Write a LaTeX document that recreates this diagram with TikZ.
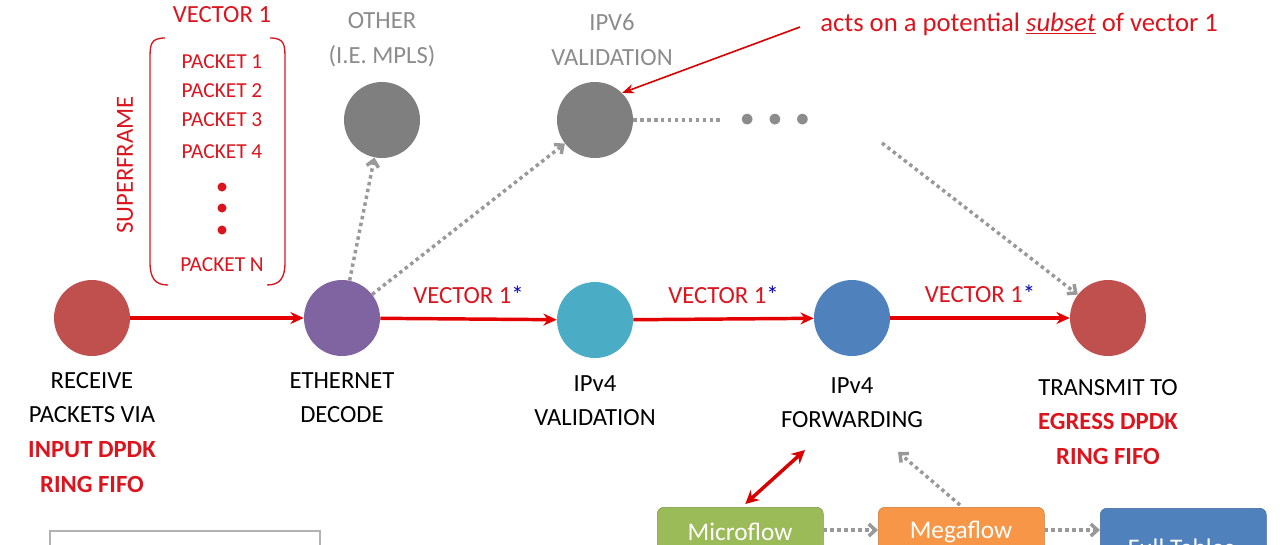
\documentclass[tikz,border=0pt]{standalone}
\usepackage{fontspec}
\setmainfont{Carlito}
\usetikzlibrary{arrows.meta}
\definecolor{redA}{RGB}{192,80,77}
\definecolor{purA}{RGB}{128,100,162}
\definecolor{cyaA}{RGB}{75,172,198}
\definecolor{bluA}{RGB}{79,129,189}
\definecolor{grnA}{RGB}{155,187,89}
\definecolor{orgA}{RGB}{247,150,70}
\definecolor{gryA}{RGB}{127,127,127}
\definecolor{txtR}{RGB}{220,20,30}
\definecolor{txtG}{RGB}{140,140,140}
\tikzset{
  stage/.style={circle,minimum size=76pt*0.75,inner sep=0pt},
  redarrow/.style={draw=red!90!black,line width=2.6pt,-{Stealth[length=10pt,width=9pt]}},
  dotarrow/.style={draw=gryA!80,line width=2.6pt,dash pattern={on 2.6pt off 2.6pt},-{Straight Barb[length=5pt,width=9pt]}},
  lbl/.style={font=\fontsize{18.5}{26}\selectfont,align=center,inner sep=0pt},
  flowbox/.style={rounded corners=5pt,minimum width=166*0.75pt,minimum height=60*0.75pt,anchor=north west,inner sep=0pt}
}
\begin{document}
\begin{tikzpicture}[x=0.75pt,y=0.75pt,yscale=-1,xscale=1]
  \useasboundingbox (0,0) rectangle (1280,544);
  \clip (0,0) rectangle (1280,544);

  %Stage nodes
  \node [stage,fill=redA] (recv) at (92,318) {};
  \node [stage,fill=purA] (ethdec) at (342,318) {};
  \node [stage,fill=cyaA] (v4val) at (595,320) {};
  \node [stage,fill=bluA] (v4fwd) at (852,318) {};
  \node [stage,fill=redA] (xmit) at (1108,318) {};
  \node [stage,fill=gryA] (other) at (382,120) {};
  \node [stage,fill=gryA] (v6val) at (595,120) {};
  \coordinate (dotend) at (720,120);
  \coordinate (dotstart) at (882,143);

  %Main vector path
  \draw [redarrow] (recv) -- (ethdec);
  \draw [redarrow] (ethdec) -- node [lbl,above=10pt,text=txtR] {VECTOR 1\textcolor{blue!70!black}{*}} (v4val);
  \draw [redarrow] (v4val) -- node [lbl,above=10pt,text=txtR] {VECTOR 1\textcolor{blue!70!black}{*}} (v4fwd);
  \draw [redarrow] (v4fwd) -- node [lbl,above=10pt,text=txtR] {VECTOR 1\textcolor{blue!70!black}{*}} (xmit);

  %Side branches
  \draw [dotarrow] (ethdec) -- (other);
  \draw [dotarrow] (ethdec) -- (v6val);
  \draw [dotarrow,-] (v6val) -- (dotend);
  \node [lbl,text=txtG,font=\fontsize{22}{22}\selectfont] (ellip) at (775,120) {$\bullet\;\bullet\;\bullet$};
  \draw [dotarrow] (dotstart) -- (xmit);

  %Annotation
  \node [lbl,text=txtR,anchor=west,font=\fontsize{20}{24}\selectfont] (note) at (820,24) {acts on a potential \underline{\textit{subset}} of vector 1};
  \draw [draw=red!85!black,line width=1.2pt,-{Stealth[length=9pt,width=7pt]}] (note.west) ++(-20,3) coordinate (nt) (nt) -- (v6val.north east);

  %Branch titles
  \node [lbl,text=txtG] (othertxt) at (382,40) {OTHER\\(I.E. MPLS)};
  \node [lbl,text=txtG] (v6txt) at (612,40) {IPV6\\VALIDATION};

  %Superframe
  \node [lbl,text=txtR] (vec1) at (222,15) {VECTOR 1};
  \draw [txtR,line width=1pt] (165,38) .. controls (150,38) and (150,45) .. (150,60) -- (150,262) .. controls (150,278) and (155,285) .. (168,285);
  \draw [txtR,line width=1pt] (270,38) .. controls (285,38) and (285,45) .. (285,60) -- (285,262) .. controls (285,278) and (280,285) .. (267,285);
  \foreach \k/\yy in {1/62,2/91,3/120,4/152}
    \node [lbl,text=txtR,font=\fontsize{16}{18}\selectfont] (pkt\k) at (222,\yy) {PACKET \k};
  \foreach \yy in {187,208,230}
    \fill [txtR] (222,\yy) circle (4.5);
  \node [lbl,text=txtR,font=\fontsize{16}{18}\selectfont] (pktn) at (222,265) {PACKET N};
  \node [lbl,text=txtR,rotate=90] (sframe) at (125,165) {SUPERFRAME};

  %Stage labels
  \node [lbl,anchor=north] (recvtxt) at (92,372) {RECEIVE\\PACKETS VIA\\\textcolor{txtR}{\textbf{INPUT DPDK}}\\\textcolor{txtR}{\textbf{RING FIFO}}};
  \node [lbl,anchor=north] (ethtxt) at (342,372) {ETHERNET\\DECODE};
  \node [lbl,anchor=north] (v4valtxt) at (595,375) {IPv4\\VALIDATION};
  \node [lbl,anchor=north] (v4fwdtxt) at (852,377) {IPv4\\FORWARDING};
  \node [lbl,anchor=north] (xmittxt) at (1108,379) {TRANSMIT TO\\\textcolor{txtR}{\textbf{EGRESS DPDK}}\\\textcolor{txtR}{\textbf{RING FIFO}}};

  %Flow cache boxes
  \node [flowbox,fill=grnA,draw=grnA!80!black] (micro) at (657,507) {};
  \node [lbl,text=white,font=\fontsize{19}{20}\selectfont] at (740,532) {Microflow};
  \node [flowbox,fill=orgA,draw=orgA!80!black] (mega) at (878,507) {};
  \node [lbl,text=white,font=\fontsize{19}{20}\selectfont] at (961,532) {Megaflow};
  \node [flowbox,fill=bluA,draw=bluA!80!black] (full) at (1100,508) {};
  \node [lbl,text=white,font=\fontsize{19}{20}\selectfont] at (1181,548) {Full Tables};
  \draw [dotarrow] (micro.east |- 0,530) -- (mega.west |- 0,530);
  \draw [dotarrow] (mega.east |- 0,530) -- (full.west |- 0,530);
  \draw [draw=red!85!black,line width=2.6pt,{Stealth[length=10pt,width=10pt]}-{Stealth[length=10pt,width=10pt]}] (micro.north) ++(5,-3) -- (805,450);
  \draw [dotarrow] (960,505) -- (898,452);

  %Legend box
  \draw [gryA!60,line width=1pt] (50,531) rectangle (320,560);
\end{tikzpicture}
\end{document}
